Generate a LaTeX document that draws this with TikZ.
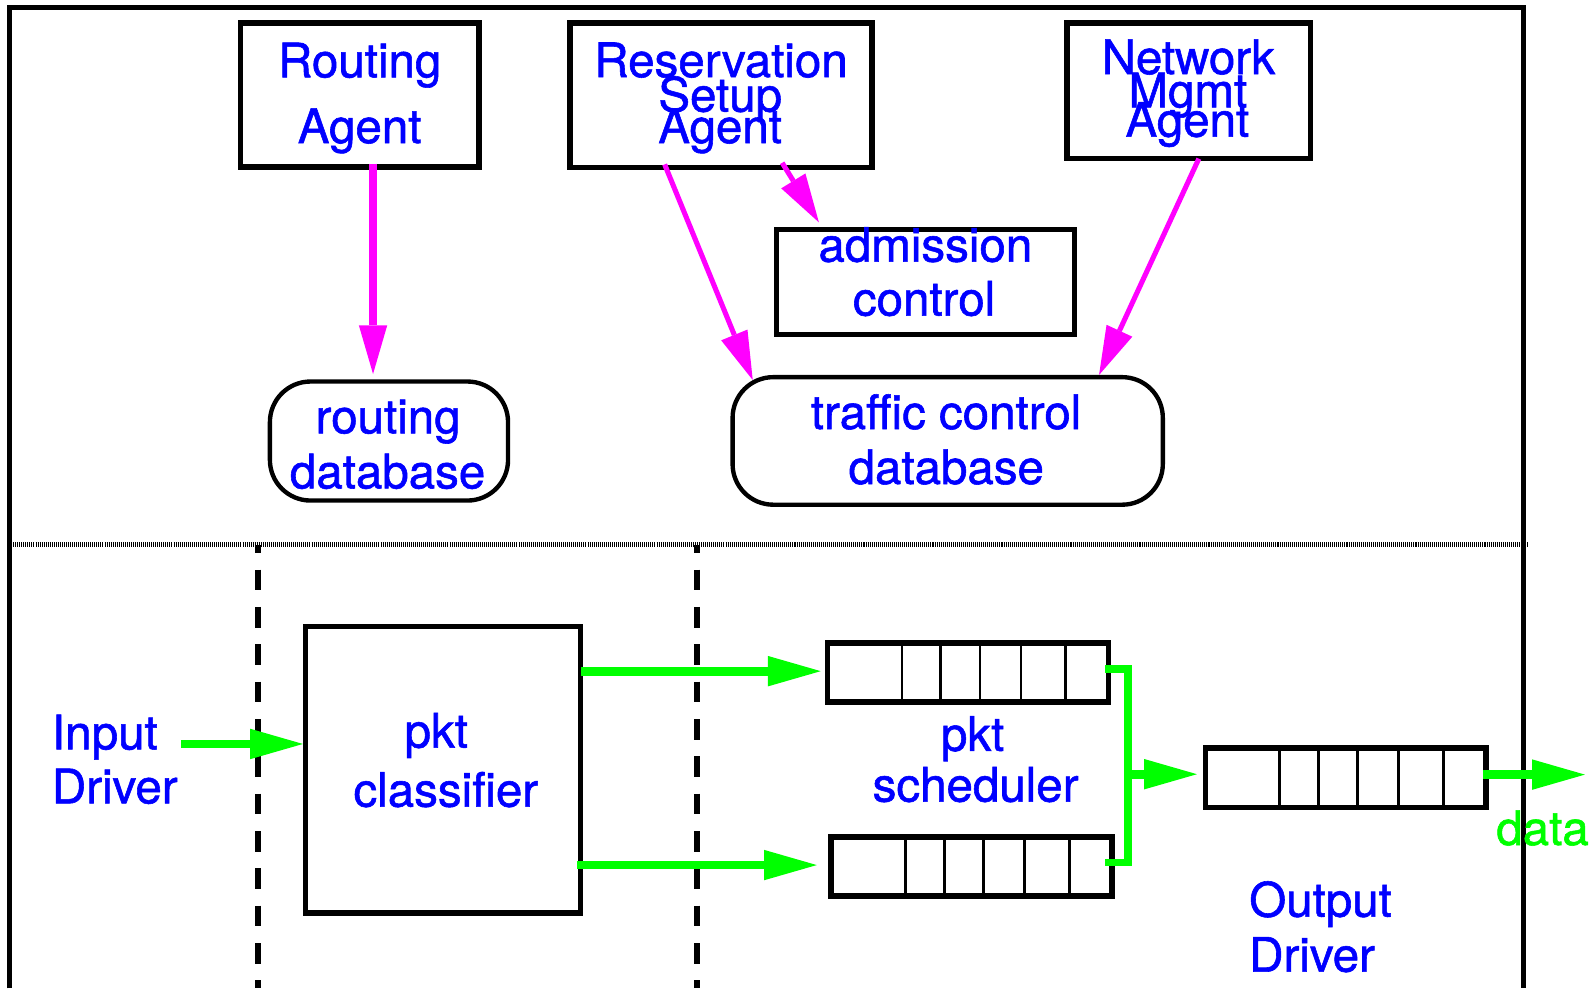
\documentclass[tikz,border=0pt]{standalone}
\usepackage{fontspec}
\setmainfont{TeX Gyre Heros}[FakeBold=1.2]
\usetikzlibrary{arrows.meta,calc}
\definecolor{txtblue}{RGB}{0,0,255}
\definecolor{flowgreen}{RGB}{0,255,0}
\definecolor{ctrlmag}{RGB}{255,0,255}
\tikzset{
  box/.style={draw=black, line width=5.3pt, inner sep=0pt},
  dbbox/.style={box, line width=4.3pt, rounded corners=40pt},
  qbox/.style={box, line width=5.5pt, minimum width=276.8pt, minimum height=58.3pt},
  qdiv/.style={line width=2.6pt},
  lbl/.style={text=txtblue, font=\fontsize{46.8pt}{56pt}\selectfont, inner sep=0pt, anchor=base},
  greenline/.style={draw=flowgreen, line width=8.6pt},
  greenarrow/.style={greenline, -{Triangle[length=52pt,width=30pt,line width=0pt]}},
  ctrlarrow/.style={draw=ctrlmag, line width=5pt, -{Triangle[length=48pt,width=28pt,line width=0pt]}},
  outerframe/.style={line width=5pt},
  sepline/.style={line width=5.3pt, dash pattern=on 1pt off 1pt},
  lanedash/.style={line width=6pt, dash pattern=on 20.4pt off 16.4pt, dash phase=12.4pt}
}
\begin{document}
\begin{tikzpicture}[x=1pt,y=-1pt]
\useasboundingbox (0,0) rectangle (1568,974);
\fill[white] (0,0) rectangle (1568,974);

% outer frame, control/data separator and lane boundaries
\draw[outerframe] (9,974) -- (9,7.5) -- (1501.4,7.5) -- (1501.4,974);
\draw[sepline] (9,536.8) -- (1507,536.8);
\draw[lanedash] (254.4,537) -- (254.4,974);
\draw[lanedash] (686.9,537) -- (686.9,974);

% control plane boxes
\node[box, minimum width=234.7pt, minimum height=141.9pt] (ra)  at (354.65,93.65) {};
\node[box, minimum width=297.7pt, minimum height=142.3pt] (rsa) at (710.55,93.85) {};
\node[box, minimum width=239.6pt, minimum height=133.5pt] (nma) at (1171.5,89.45) {};
\node[box, minimum width=293.5pt, minimum height=103.7pt] (adm) at (912.05,277.85) {};
\node[dbbox, minimum width=234.7pt, minimum height=117.3pt] (rdb) at (383.35,434.65) {};
\node[dbbox, minimum width=424pt, minimum height=125.7pt] (tcd) at (934,434.55) {};

% data plane boxes
\node[box, minimum width=271pt, minimum height=282.2pt] (cls) at (436.7,758.7) {};
\node[qbox] (q1)   at (954,662.85) {};
\node[qbox] (q2)   at (957.6,854.15) {};
\node[qbox] (outq) at (1326.25,766.5) {};
\foreach \q in {q1,q2,outq}
  \foreach \d in {73.2,111.5,150.2,190.6,234.7}
    \draw[qdiv] ($(\q.north west)+({\d+2.75},0)$) -- ($(\q.south west)+({\d+2.75},0)$);

% labels
\node[lbl] (raA) at (354.5,76.2) {Routing};
\node[lbl] (raB) at (354.4,141) {Agent};
\node[lbl] (rsaA) at (710.6,76) {Reservation};
\node[lbl] (rsaB) at (709.8,110) {Setup};
\node[lbl] (rsaC) at (709.7,141) {Agent};
\node[lbl] (nmaA) at (1171.2,73) {Network};
\node[lbl] (nmaB) at (1170.7,105.8) {Mgmt};
\node[lbl] (nmaC) at (1170.2,134.7) {Agent};
\node[lbl] (admA) at (912,257.9) {admission};
\node[lbl] (admB) at (910.7,311) {control};
\node[lbl] (rdbA) at (382.5,427) {routing};
\node[lbl] (rdbB) at (382,481.3) {database};
\node[lbl] (tcdA) at (932.4,422.8) {traffic control};
\node[lbl] (tcdB) at (932.6,477) {database};
\node[lbl] (clsA) at (430,736.8) {pkt};
\node[lbl] (clsB) at (439.4,795) {classifier};
\node[lbl] (schA) at (958.6,740) {pkt};
\node[lbl] (schB) at (961.5,790) {scheduler};
\node[lbl, anchor=base west] (inA) at (51,738.5) {Input};
\node[lbl, anchor=base west] (inB) at (51,791.7) {Driver};
\node[lbl, anchor=base west] (outA) at (1231,903.4) {Output};
\node[lbl, anchor=base west] (outB) at (1231,957.6) {Driver};

% control flows
\draw[ctrlarrow, line width=7.2pt] ($(ra.south)+(13,-6)$) -- ($(rdb.north -| ra.south)+(13,-5.25)$);
\draw[ctrlarrow] ($(rsa.south)+(-55.5,-5.6)$) -- ($(tcd.north west)+(22,5)$);
\draw[ctrlarrow] ($(rsa.south)+(60.3,-7.2)$) -- ($(adm.north west)+(44.4,-4.2)$);
\draw[ctrlarrow] ($(nma.south)+(10,-2.5)$) -- ($(tcd.north east)+(-65,0)$);

% data flows
\coordinate (din) at (178.5,733.2);
\coordinate (j) at (1111.5,763);
\coordinate (dout) at (1562,763.4);
\draw[greenarrow] (din) -- (din -| cls.west);
\draw[greenarrow, shorten >=4pt] ($(cls.east |- q1.west)+(-2,-1.4)$) -- ($(q1.west)+(0,-1.4)$);
\draw[greenarrow, shorten >=11.5pt] ($(cls.east |- q2.west)+(-6,-1.6)$) -- ($(q2.west)+(0,-1.6)$);
\draw[greenline, line width=7.7pt] ($(q1.east)+(-6,-3.2)$) -| (j) |- ($(q2.east)+(-9.5,-4.2)$);
\draw[greenarrow] (j) -- ($(j -| outq.west)+(-5.5,0)$);
\draw[greenarrow] ($(outq.east |- dout)+(-6,0)$) -- (dout);
\node[lbl, anchor=base west, text=flowgreen] (dlbl) at (1474.5,832.8) {data};
\end{tikzpicture}
\end{document}
